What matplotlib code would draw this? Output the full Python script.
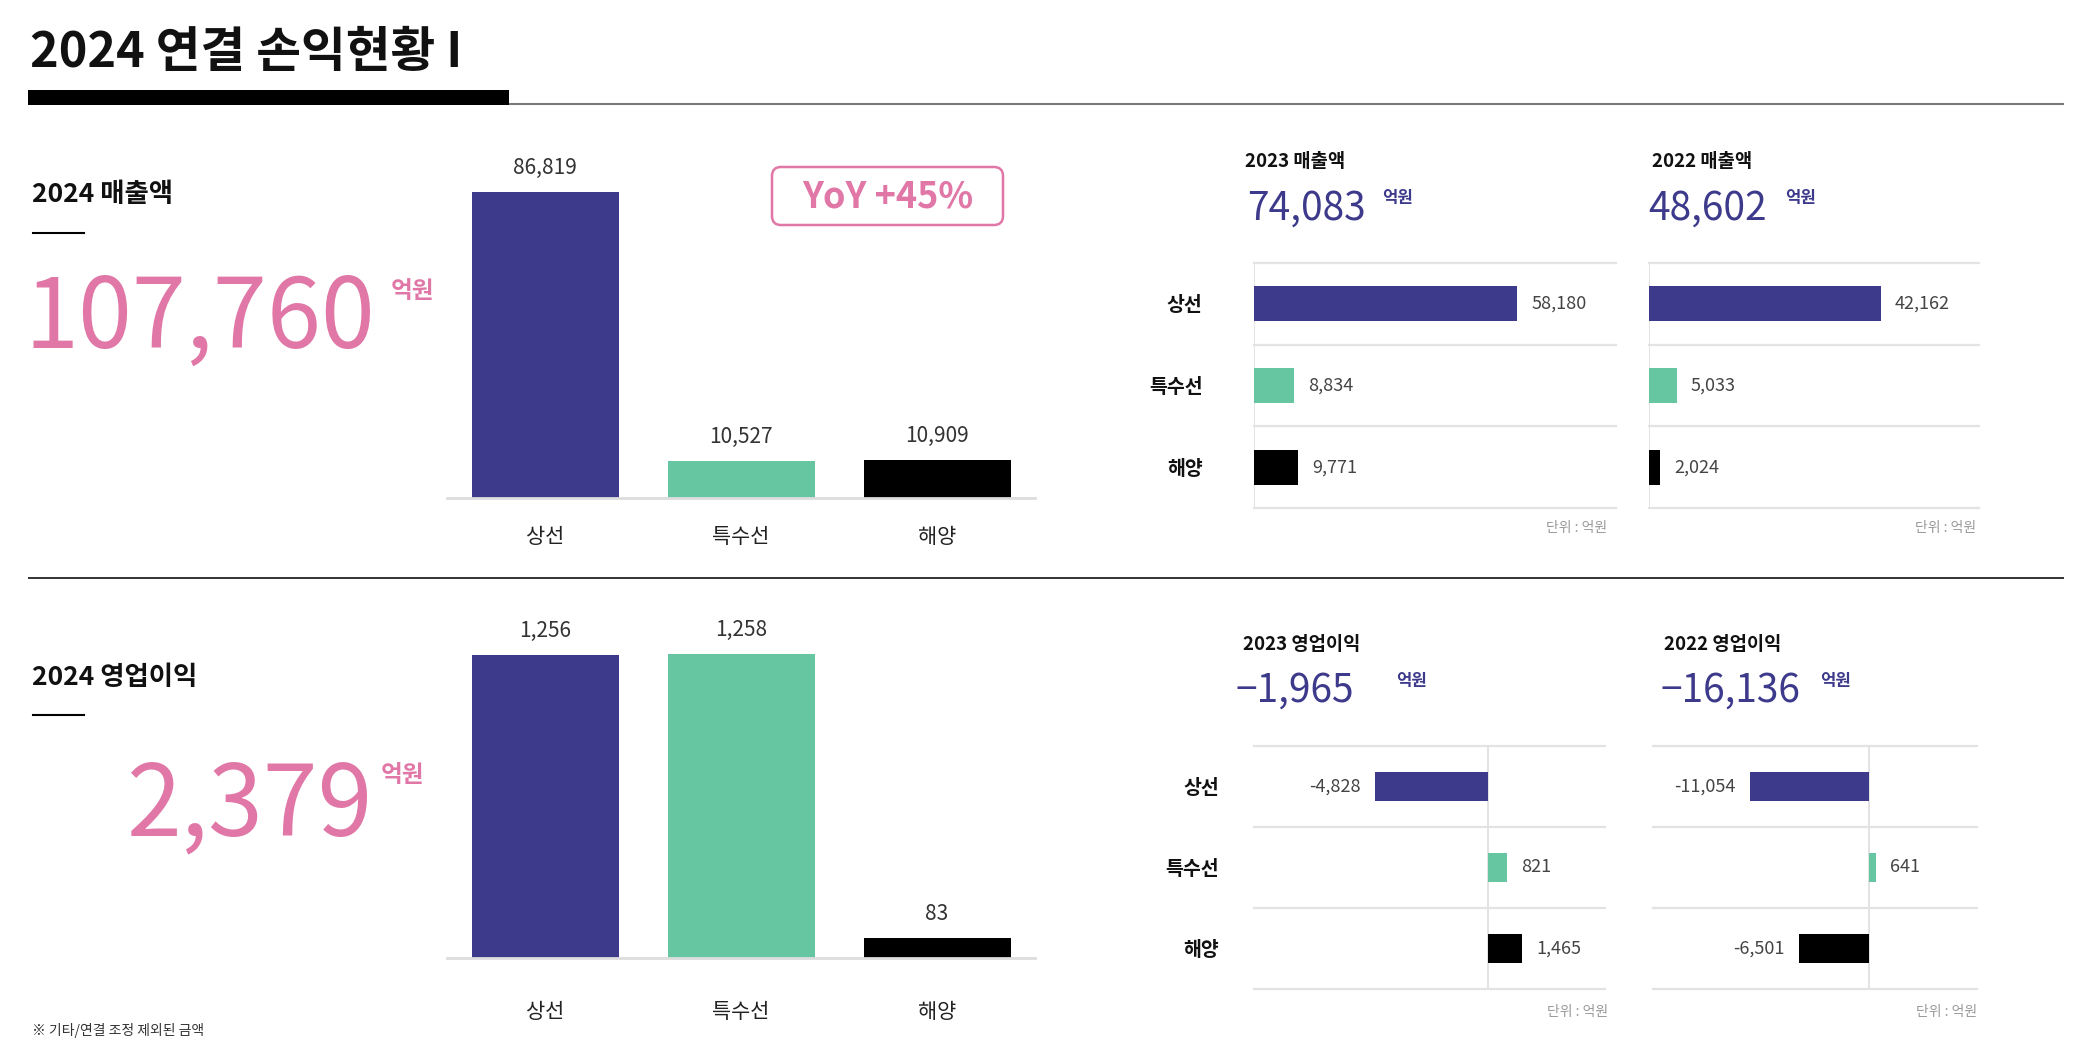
import matplotlib
matplotlib.use('Agg')
import matplotlib.pyplot as plt
from matplotlib.patches import Rectangle, FancyBboxPatch

plt.rcParams['font.family'] = ['Noto Sans CJK KR', 'DejaVu Sans']
plt.rcParams['axes.unicode_minus'] = False

# ---------------- data ----------------
categories = ['상선', '특수선', '해양']
rev_2024 = [86819, 10527, 10909]
op_2024 = [1256, 1258, 83]
rev_2023 = [58180, 8834, 9771]
rev_2022 = [42162, 5033, 2024]
op_2023 = [-4828, 821, 1465]
op_2022 = [-11054, 641, -6501]
rev_total_2024 = '107,760'
op_total_2024 = '2,379'
rev_total_2023 = '74,083'
rev_total_2022 = '48,602'
op_total_2023 = '\u22121,965'
op_total_2022 = '\u221216,136'
yoy_text = 'YoY +45%'
unit = '억원'
unit_note = '단위 : 억원'
footnote = '※ 기타/연결 조정 제외된 금액'

# ---------------- style ----------------
NAVY = '#3D3A8B'
TEAL = '#66C6A2'
BLACK = '#000000'
PINK = '#E077A7'
GRID = '#E3E3E3'
bar_colors = [NAVY, TEAL, BLACK]

W, H = 2085, 1043
fig = plt.figure(figsize=(W / 100, H / 100), dpi=100)
fig.patch.set_facecolor('white')

# overlay axes in pixel coordinates for layout decorations
ax0 = fig.add_axes([0, 0, 1, 1])
ax0.set_xlim(0, W)
ax0.set_ylim(H, 0)
ax0.axis('off')


def add_ax(x0, y0, x1, y1):
    a = fig.add_axes([x0 / W, 1 - y1 / H, (x1 - x0) / W, (y1 - y0) / H])
    a.set_facecolor('none')
    return a


def txt(x, y, s, **kw):
    return ax0.text(x, y, s, **kw)


# ---------------- header ----------------
txt(30, 67, '2024 연결 손익현황 I', fontsize=35, fontweight='bold', color='#111111', va='baseline')
ax0.add_patch(Rectangle((28, 90), 481, 15, color='black', lw=0))
ax0.plot([509, 2064], [104, 104], color='#7a7a7a', lw=1.5, solid_capstyle='butt')
ax0.plot([28, 2064], [578, 578], color='#333333', lw=1.4, solid_capstyle='butt')

# ---------------- left: 2024 revenue ----------------
txt(32, 202, '2024 매출액', fontsize=19, fontweight='bold', color='#111111', va='baseline')
ax0.plot([33, 84], [233, 233], color='black', lw=1.5)
txt(375, 348, rev_total_2024, fontsize=70, color=PINK, ha='right', va='baseline')
txt(391, 291, unit, fontsize=17, fontweight='bold', color=PINK, va='center')

ax0.add_patch(FancyBboxPatch((772, 167), 231, 58, boxstyle='round,pad=0,rounding_size=9',
                             facecolor='white', edgecolor=PINK, lw=1.8))
txt(887.5, 208, yoy_text, fontsize=26, fontweight='bold', color=PINK, ha='center', va='baseline')

# ---------------- left: 2024 operating profit ----------------
txt(32, 685, '2024 영업이익', fontsize=19, fontweight='bold', color='#111111', va='baseline')
ax0.plot([33, 84], [715, 715], color='black', lw=1.5)
txt(372, 835, op_total_2024, fontsize=71, color=PINK, ha='right', va='baseline')
txt(381, 775, unit, fontsize=17, fontweight='bold', color=PINK, va='center')

txt(32, 1031, footnote, fontsize=10, color='#333333', va='center')


def vbar_chart(ax, vals, ymax, pad):
    x = list(range(len(categories)))
    ax.bar(x, vals, width=0.75, color=bar_colors)
    ax.set_xlim(-0.5, len(categories) - 0.5)
    ax.set_ylim(0, ymax)
    for s in ['top', 'right', 'left']:
        ax.spines[s].set_visible(False)
    ax.spines['bottom'].set_color('#DDDDDD')
    ax.spines['bottom'].set_linewidth(2)
    ax.set_yticks([])
    ax.set_xticks(x, categories)
    ax.tick_params(axis='x', length=0, pad=pad, labelsize=15, labelcolor='#222222')
    for i, v in enumerate(vals):
        ax.annotate(f'{v:,}', (i, v), xytext=(0, 13), textcoords='offset points',
                    ha='center', va='baseline', fontsize=15, color='#333333')


ax_r24 = add_ax(447, 145.5, 1035, 498)
vbar_chart(ax_r24, rev_2024, 100000, 20)

ax_o24 = add_ax(447, 620, 1035, 958)
vbar_chart(ax_o24, op_2024, 1400, 31)


# ---------------- right panels ----------------
def hbar_panel(ax, vals, xlim, bar_h, show_cats, cat_pad):
    y = list(range(len(categories)))
    ax.barh(y, vals, height=bar_h, color=bar_colors, zorder=3)
    ax.set_xlim(*xlim)
    ax.set_ylim(len(categories) - 0.5, -0.5)
    for s in ax.spines.values():
        s.set_visible(False)
    for g in [-0.5, 0.5, 1.5, 2.5]:
        ax.axhline(g, color=GRID, lw=1.6, zorder=1, clip_on=False)
    ax.axvline(0, color=GRID, lw=1.4, zorder=1)
    ax.set_xticks([])
    if show_cats:
        ax.set_yticks(y, categories)
        ax.tick_params(axis='y', length=0, pad=cat_pad, labelsize=14, labelcolor='#111111')
        for lbl in ax.get_yticklabels():
            lbl.set_fontweight('bold')
    else:
        ax.set_yticks([])
    for i, v in enumerate(vals):
        if v >= 0:
            ax.annotate(f'{v:,}', (v, i), xytext=(10, 0), textcoords='offset points',
                        ha='left', va='center', fontsize=13, color='#444444')
        else:
            ax.annotate(f'{v:,}', (v, i), xytext=(-10, 0), textcoords='offset points',
                        ha='right', va='center', fontsize=13, color='#444444')


def panel_header(x_title, x_num, x_unit, y_title, y_num, y_unit, title, num):
    txt(x_title, y_title, title, fontsize=13.5, fontweight='bold', color='#111111', va='baseline')
    txt(x_num, y_num, num, fontsize=28, color=NAVY, va='baseline')
    txt(x_unit, y_unit, unit, fontsize=12, fontweight='bold', color=NAVY, va='center')


# 2023 revenue
panel_header(1245, 1247, 1382, 167, 220, 198, '2023 매출액', rev_total_2023)
ax_r23 = add_ax(1254, 263, 1616, 508)
hbar_panel(ax_r23, rev_2023, (0, 80000), 0.43, True, 37)
txt(1607, 528, unit_note, fontsize=10, color='#999999', ha='right', va='center')

# 2022 revenue
panel_header(1652, 1648, 1785, 167, 220, 198, '2022 매출액', rev_total_2022)
ax_r22 = add_ax(1649, 263, 1979, 508)
hbar_panel(ax_r22, rev_2022, (0, 60000), 0.43, False, 0)
txt(1976, 528, unit_note, fontsize=10, color='#999999', ha='right', va='center')

# 2023 operating profit
panel_header(1243, 1236, 1396, 650, 702, 681, '2023 영업이익', op_total_2023)
ax_o23 = add_ax(1254, 746, 1605, 989)
hbar_panel(ax_o23, op_2023, (-10000, 5000), 0.36, True, 25)
txt(1608, 1012, unit_note, fontsize=10, color='#999999', ha='right', va='center')

# 2022 operating profit
panel_header(1664, 1661, 1820, 650, 702, 681, '2022 영업이익', op_total_2022)
ax_o22 = add_ax(1653, 746, 1977, 989)
hbar_panel(ax_o22, op_2022, (-20000, 10000), 0.36, False, 0)
txt(1977, 1012, unit_note, fontsize=10, color='#999999', ha='right', va='center')

fig.savefig('out.png', dpi=100, facecolor='white')
